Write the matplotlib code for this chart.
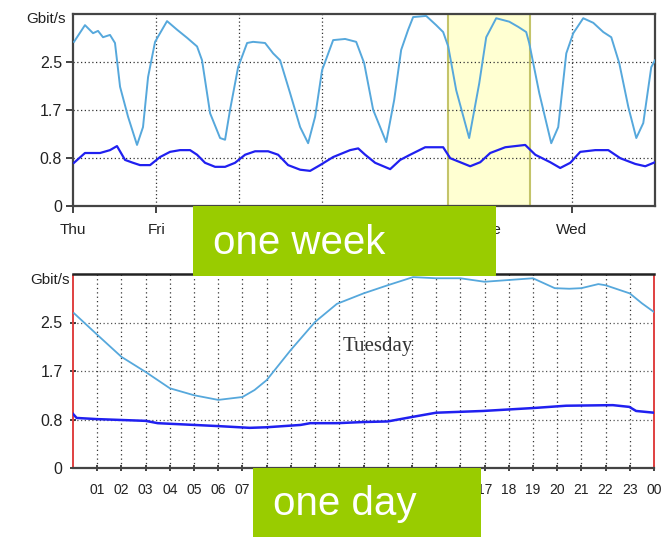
import matplotlib
matplotlib.use("Agg")
import matplotlib.pyplot as plt
from matplotlib.patches import Rectangle

# --- data ---
# weekly view: x in days since Thu 00:00
week_in_days = [0.012, 0.144, 0.241, 0.301, 0.361, 0.445, 0.505, 0.566, 0.662, 0.770,
                0.842, 0.903, 0.987, 1.131, 1.252, 1.372, 1.492, 1.552, 1.649, 1.769,
                1.829, 1.889, 1.986, 2.094, 2.166, 2.310, 2.407, 2.491, 2.611, 2.732,
                2.828, 2.912, 2.996, 3.129, 3.273, 3.406, 3.502, 3.610, 3.767, 3.863,
                3.947, 4.031, 4.091, 4.248, 4.368, 4.452, 4.513, 4.609, 4.765, 4.886,
                4.970, 5.090, 5.247, 5.355, 5.451, 5.487, 5.608, 5.752, 5.836, 5.933,
                6.017, 6.137, 6.258, 6.378, 6.474, 6.570, 6.679, 6.775, 6.859, 6.955, 7.0]
week_in_vals = [2.85, 3.14, 3.00, 3.04, 2.93, 2.97, 2.83, 2.07, 1.55, 1.06,
                1.37, 2.24, 2.85, 3.21, 3.06, 2.92, 2.77, 2.53, 1.61, 1.18,
                1.15, 1.67, 2.41, 2.83, 2.85, 2.83, 2.65, 2.53, 1.96, 1.37,
                1.09, 1.55, 2.36, 2.88, 2.90, 2.85, 2.48, 1.67, 1.11, 1.84,
                2.71, 3.06, 3.28, 3.30, 3.14, 3.02, 2.77, 2.01, 1.18, 2.13,
                2.93, 3.26, 3.20, 3.11, 3.02, 2.83, 1.96, 1.09, 1.37, 2.65,
                3.00, 3.26, 3.18, 3.02, 2.93, 2.48, 1.72, 1.18, 1.44, 2.41, 2.53]

week_out_days = [0.012, 0.144, 0.325, 0.445, 0.529, 0.626, 0.722, 0.806, 0.927, 1.047,
                 1.167, 1.288, 1.408, 1.492, 1.588, 1.709, 1.829, 1.949, 2.070, 2.190,
                 2.347, 2.467, 2.587, 2.732, 2.852, 2.972, 3.129, 3.333, 3.430, 3.514,
                 3.634, 3.815, 3.935, 4.055, 4.236, 4.452, 4.537, 4.777, 4.898, 5.018,
                 5.199, 5.439, 5.560, 5.740, 5.860, 5.981, 6.101, 6.282, 6.438, 6.582,
                 6.763, 6.883, 7.0]
week_out_vals = [0.75, 0.92, 0.92, 0.97, 1.04, 0.80, 0.75, 0.71, 0.71, 0.85,
                 0.94, 0.97, 0.97, 0.89, 0.75, 0.68, 0.68, 0.75, 0.89, 0.95,
                 0.95, 0.89, 0.71, 0.63, 0.61, 0.71, 0.85, 0.97, 1.00, 0.89,
                 0.75, 0.64, 0.80, 0.89, 1.02, 1.02, 0.83, 0.69, 0.76, 0.92,
                 1.02, 1.06, 0.89, 0.76, 0.66, 0.75, 0.94, 0.97, 0.97, 0.83,
                 0.73, 0.69, 0.76]

day_names = ["Thu", "Fri", "Sat", "Sun", "Mon", "Tue", "Wed"]
grid_days = [1, 2, 3, 6]          # dotted verticals still visible in the reference
highlight = (4.51, 5.50)          # yellow band around Tuesday

# daily view: x in hours
day_in_hours = [0.04, 1, 2, 3, 4, 5, 6, 7, 7.5, 8, 9, 10, 10.9, 12, 13, 14.05,
                15, 16, 17, 18, 19, 19.9, 20.5, 21, 21.7, 22, 23, 23.5, 24]
day_in_vals = [2.66, 2.29, 1.91, 1.65, 1.37, 1.25, 1.17, 1.22, 1.34, 1.51, 2.03, 2.51,
               2.82, 3.00, 3.14, 3.28, 3.26, 3.26, 3.20, 3.23, 3.26, 3.09, 3.08, 3.09,
               3.16, 3.14, 3.00, 2.83, 2.68]

day_out_hours = [0.0, 0.15, 1, 3, 3.5, 5, 6, 7.3, 8, 9.4, 9.8, 10.9, 12, 13,
                 14.05, 15, 16.94, 19, 20.37, 22.3, 22.98, 23.26, 24]
day_out_vals = [0.93, 0.86, 0.84, 0.81, 0.77, 0.74, 0.72, 0.69, 0.70, 0.74, 0.77, 0.77,
                0.79, 0.80, 0.88, 0.95, 0.98, 1.03, 1.07, 1.08, 1.05, 0.98, 0.95]
hour_labels = ["%02d" % (h % 24) for h in range(1, 25)]

y_ticks = [0, 2.5 / 3, 5 / 3, 2.5]
y_labels = ["0", "0.8", "1.7", "2.5"]
y_top = 10 / 3

light = "#56a8dc"
dark = "#2020f0"
green = "#99cc00"
tick_font = ["Liberation Sans", "DejaVu Sans"]

fig = plt.figure(figsize=(6.72, 5.37), dpi=100)

# ---------- weekly panel ----------
ax1 = fig.add_axes([73 / 672, 1 - 206 / 537, 582 / 672, 192 / 537])
ax1.axvspan(*highlight, facecolor="#ffffd2", edgecolor="#c4c46a", lw=1.5, zorder=0)
for d in grid_days:
    ax1.axvline(d, color="#333333", ls=(0, (1, 2)), lw=0.9, zorder=1)
for v in y_ticks[1:]:
    ax1.axhline(v, color="#333333", ls=(0, (1, 2)), lw=0.9, zorder=1)
ax1.plot(week_in_days, week_in_vals, color=light, lw=1.4, zorder=3)
ax1.plot(week_out_days, week_out_vals, color=dark, lw=1.6, zorder=3)
ax1.set_xlim(0, 7)
ax1.set_ylim(0, y_top)
ax1.set_xticks(range(7))
ax1.set_xticklabels(day_names, family=tick_font, fontsize=11)
ax1.set_yticks(y_ticks)
ax1.set_yticklabels(y_labels, family=tick_font, fontsize=11.5)
ax1.tick_params(direction="out", length=5, width=1.2, colors="#222222", pad=3)
ax1.tick_params(axis="x", pad=7)
for s in ax1.spines.values():
    s.set_color("#444444")
    s.set_linewidth(1.6)
ax1.text(-0.012, 0.975, "Gbit/s", transform=ax1.transAxes, ha="right", va="center",
         family=tick_font, fontsize=11, color="#222222")

# ---------- daily panel ----------
ax2 = fig.add_axes([73 / 672, 1 - 468 / 537, 581 / 672, 194 / 537])
for h in range(1, 24):
    ax2.axvline(h, color="#333333", ls=(0, (1, 2.5)), lw=0.9, zorder=1)
for v in y_ticks[1:]:
    ax2.axhline(v, color="#555555", ls=(0, (1, 2)), lw=0.9, zorder=1)
ax2.plot(day_in_hours, day_in_vals, color=light, lw=1.3, zorder=3)
ax2.plot(day_out_hours, day_out_vals, color=dark, lw=1.8, zorder=3)
ax2.set_xlim(0, 24)
ax2.set_ylim(0, y_top)
ax2.set_xticks(range(1, 25))
ax2.set_xticklabels(hour_labels, family=tick_font, fontsize=10)
ax2.set_yticks(y_ticks)
ax2.set_yticklabels(y_labels, family=tick_font, fontsize=11.5)
ax2.tick_params(direction="inout", length=5, width=1.2, colors="#222222", pad=5)
ax2.tick_params(axis="x", pad=8)
ax2.spines["top"].set_color("#222222")
ax2.spines["top"].set_linewidth(1.8)
ax2.spines["bottom"].set_color("#444444")
ax2.spines["bottom"].set_linewidth(1.6)
for side in ("left", "right"):
    ax2.spines[side].set_color("#e04040")
    ax2.spines[side].set_linestyle((0, (1, 1)))
    ax2.spines[side].set_linewidth(1.4)
ax2.text(-0.005, 0.97, "Gbit/s", transform=ax2.transAxes, ha="right", va="center",
         family=tick_font, fontsize=11, color="#222222")
ax2.text(12.6, 2.08, "Tuesday", ha="center", va="center",
         family=["Liberation Serif", "DejaVu Serif"], fontsize=15, color="#333333")

# ---------- green captions ----------
fig.patches.append(Rectangle((193 / 672, 1 - 276 / 537), 303 / 672, 70 / 537,
                             transform=fig.transFigure, facecolor=green,
                             edgecolor="none", zorder=10))
fig.text(213 / 672, 1 - 243 / 537, "one week", ha="left", va="center", color="white",
         family=["Liberation Sans", "DejaVu Sans"], fontsize=29, zorder=11)
fig.patches.append(Rectangle((253 / 672, 0), 228 / 672, 69 / 537,
                             transform=fig.transFigure, facecolor=green,
                             edgecolor="none", zorder=10))
fig.text(273 / 672, 1 - 504 / 537, "one day", ha="left", va="center", color="white",
         family=["Liberation Sans", "DejaVu Sans"], fontsize=29, zorder=11)

fig.savefig("out.png", dpi=100)
